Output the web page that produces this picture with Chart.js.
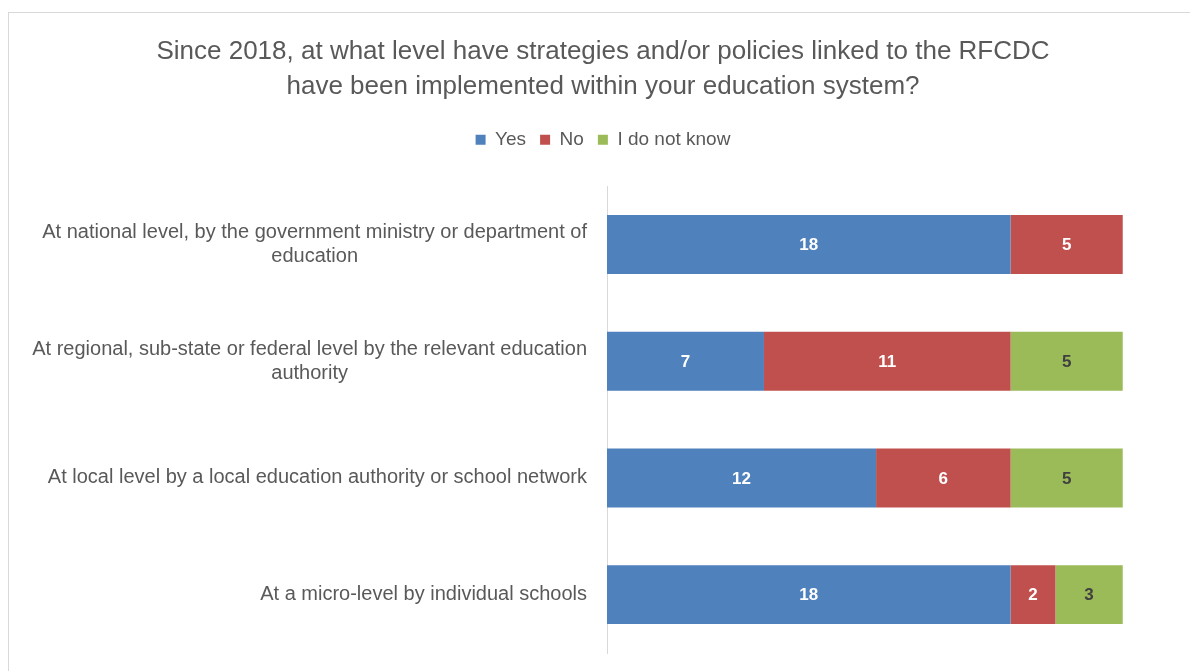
<!DOCTYPE html>
<html>
<head>
<meta charset="utf-8">
<script src="https://cdn.jsdelivr.net/npm/chart.js@4.4.0/dist/chart.umd.min.js"></script>
<style>
  html, body { margin: 0; padding: 0; background: #fff; }
  #wrap { position: relative; width: 1190px; height: 671px; overflow: hidden; }
  #frame { position: absolute; left: 8px; top: 12px; width: 1300px; height: 800px; border: 1px solid #d9d9d9; box-sizing: border-box; }
  canvas { position: absolute; left: 0; top: 0; }
</style>
</head>
<body>
<div id="wrap">
  <div id="frame"></div>
  <canvas id="c" width="1190" height="671"></canvas>
</div>
<script>
const categories = [
  ["At national level, by the government ministry or department of", "education"],
  ["At regional, sub-state or federal level by the relevant education", "authority"],
  ["At local level by a local education authority or school network"],
  ["At a micro-level by individual schools"]
];
const seriesNames = ["Yes", "No", "I do not know"];
const yesValues = [18, 7, 12, 18];
const noValues = [5, 11, 6, 2];
const dontKnowValues = [0, 5, 5, 3];
const seriesColors = ["#4F81BD", "#C0504D", "#9BBB59"];
const labelColors = ["#ffffff", "#ffffff", "#404040"];
const titleLines = [
  "Since 2018, at what level have strategies and/or policies linked to the RFCDC",
  "have been implemented within your education system?"
];

const FONT = "'Liberation Sans', Arial, sans-serif";
const TEXT = "#595959";

const legendMargin = {
  id: 'legendMargin',
  beforeInit(chart) {
    const fit = chart.legend.fit;
    chart.legend.fit = function () {
      fit.bind(chart.legend)();
      this.height += 27;
    };
  }
};

const catLabels = {
  id: 'catLabels',
  afterDraw(chart) {
    const ctx = chart.ctx;
    const y = chart.scales.y;
    const right = chart.chartArea.left - 20;
    ctx.save();
    ctx.font = "20px " + FONT;
    ctx.fillStyle = TEXT;
    ctx.textAlign = 'center';
    ctx.textBaseline = 'middle';
    const lh = 24;
    categories.forEach((lines, i) => {
      const cy = y.getPixelForValue(i);
      const maxW = Math.max(...lines.map(l => ctx.measureText(l).width));
      const cx = right - maxW / 2;
      const start = cy - (lines.length - 1) * lh / 2;
      lines.forEach((l, j) => ctx.fillText(l, cx, start + j * lh));
    });
    ctx.restore();
  }
};

const valueLabels = {
  id: 'valueLabels',
  afterDatasetsDraw(chart) {
    const ctx = chart.ctx;
    ctx.save();
    ctx.font = "bold 17px " + FONT;
    ctx.textAlign = 'center';
    ctx.textBaseline = 'middle';
    chart.data.datasets.forEach((ds, di) => {
      const meta = chart.getDatasetMeta(di);
      meta.data.forEach((bar, i) => {
        const v = ds.data[i];
        if (!v) return;
        ctx.fillStyle = labelColors[di];
        ctx.fillText(String(v), (bar.x + bar.base) / 2, bar.y + 1);
      });
    });
    ctx.restore();
  }
};

new Chart(document.getElementById('c'), {
  type: 'bar',
  data: {
    labels: categories,
    datasets: [
      { label: seriesNames[0], data: yesValues, backgroundColor: seriesColors[0] },
      { label: seriesNames[1], data: noValues, backgroundColor: seriesColors[1] },
      { label: seriesNames[2], data: dontKnowValues, backgroundColor: seriesColors[2] }
    ]
  },
  options: {
    indexAxis: 'y',
    responsive: false,
    animation: false,
    devicePixelRatio: 1,
    layout: { padding: { top: 24, bottom: 18, left: 16, right: 0 } },
    datasets: { bar: { categoryPercentage: 1, barPercentage: 0.505, borderWidth: 0 } },
    scales: {
      x: {
        stacked: true, min: 0, max: 26,
        display: false
      },
      y: {
        stacked: true,
        grid: { display: false },
        border: { display: true, color: '#d9d9d9', width: 1 },
        ticks: { display: false },
        afterFit(scale) { scale.width = 591; }
      }
    },
    plugins: {
      title: {
        display: true,
        text: titleLines,
        color: TEXT,
        font: { family: FONT, size: 26, weight: 'normal', lineHeight: 1.35 },
        padding: { top: 10, bottom: 12 }
      },
      legend: {
        display: true,
        position: 'top',
        labels: {
          color: TEXT,
          font: { family: FONT, size: 19 },
          boxWidth: 10, boxHeight: 10,
          padding: 14
        }
      },
      tooltip: { enabled: false }
    }
  },
  plugins: [legendMargin, catLabels, valueLabels]
});
</script>
</body>
</html>
